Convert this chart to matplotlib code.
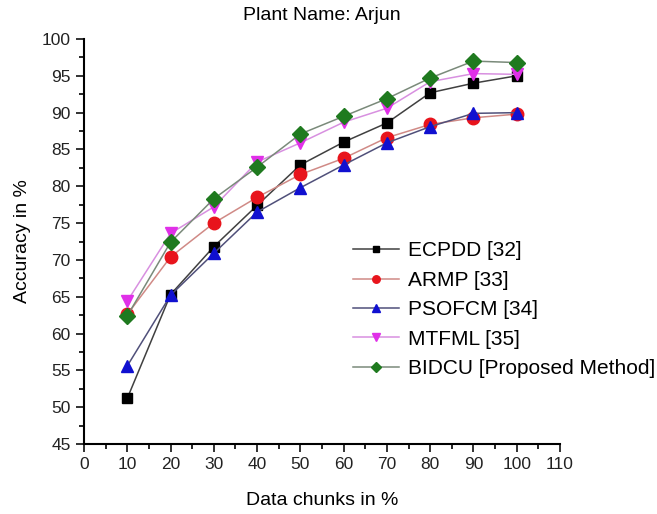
import matplotlib
matplotlib.use("Agg")
import matplotlib.pyplot as plt
from matplotlib.ticker import MultipleLocator

plt.rcParams['font.family'] = ['Liberation Sans', 'DejaVu Sans']

chunks = [10, 20, 30, 40, 50, 60, 70, 80, 90, 100]
ecpdd = [51.2, 65.3, 71.8, 77.4, 82.9, 86.0, 88.6, 92.7, 94.0, 95.0]
armp = [62.6, 70.4, 75.0, 78.5, 81.6, 83.8, 86.6, 88.4, 89.3, 89.8]
psofcm = [55.6, 65.2, 70.9, 76.5, 79.8, 82.9, 85.9, 88.1, 89.9, 90.0]
mtfml = [64.4, 73.6, 77.2, 83.3, 85.9, 88.7, 90.6, 94.2, 95.3, 95.2]
bidcu = [62.4, 72.4, 78.3, 82.6, 87.1, 89.5, 91.9, 94.7, 97.0, 96.8]

labels = ['ECPDD [32]', 'ARMP [33]', 'PSOFCM [34]', 'MTFML [35]', 'BIDCU [Proposed Method]']
series = [ecpdd, armp, psofcm, mtfml, bidcu]
markers = ['s', 'o', '^', 'v', 'D']
mcolors = ['black', '#e8141c', '#1010d0', '#e030e8', '#1f7a1f']
lcolors = ['#404040', '#d08a86', '#50507a', '#d890e0', '#7a8a7a']
msizes = [7, 9, 9, 9, 8]

fig = plt.figure(figsize=(6.57, 5.14), dpi=100)
ax = fig.add_axes([84 / 657, 70 / 514, 476 / 657, 405 / 514])

for y, lab, m, mc, lc, ms in zip(series, labels, markers, mcolors, lcolors, msizes):
    ax.plot(chunks, y, color=lc, lw=1.1, marker=m, markersize=ms,
            markerfacecolor=mc, markeredgecolor=mc, label=lab)

ax.set_xlim(0, 110)
ax.set_ylim(45, 100)
ax.xaxis.set_major_locator(MultipleLocator(10))
ax.xaxis.set_minor_locator(MultipleLocator(5))
ax.yaxis.set_major_locator(MultipleLocator(5))
ax.yaxis.set_minor_locator(MultipleLocator(2.5))
ax.spines['top'].set_visible(False)
ax.spines['right'].set_visible(False)
ax.spines['left'].set_linewidth(1.5)
ax.spines['bottom'].set_linewidth(1.5)
ax.tick_params(which='major', direction='out', length=6, width=1.3, labelsize=12.5, colors='#222222')
ax.tick_params(which='minor', direction='out', length=3.5, width=1.2)

ax.set_xlabel('Data chunks in %', fontsize=14, labelpad=14)
ax.set_ylabel('Accuracy in %', fontsize=14, labelpad=8)
ax.set_title('Plant Name: Arjun', fontsize=14, pad=14)

ax.legend(loc='upper left', bbox_to_anchor=(0.565, 0.50), frameon=False, fontsize=15,
          markerscale=0.6, handlelength=2.2, handletextpad=0.45, labelspacing=0.5,
          borderaxespad=0, borderpad=0)

fig.savefig('out.png', dpi=100)
